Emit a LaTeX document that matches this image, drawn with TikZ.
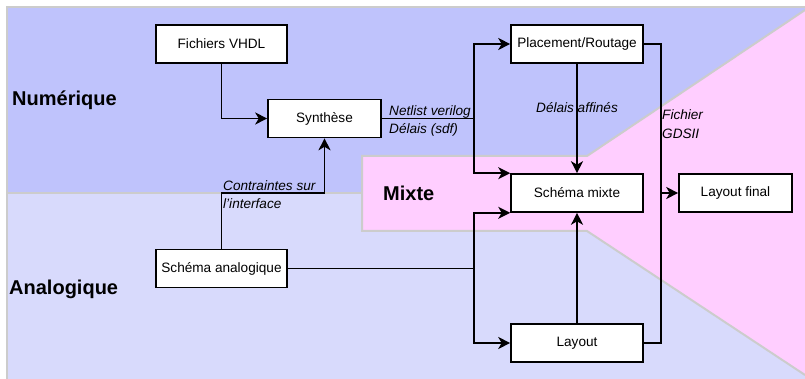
\documentclass[tikz,border=0pt]{standalone}
\usepackage{fontspec}
\setmainfont{Liberation Sans}
\usetikzlibrary{arrows.meta}

\definecolor{numblue}{RGB}{191,195,252}
\definecolor{anablue}{RGB}{216,218,252}
\definecolor{mixpink}{RGB}{255,206,255}
\definecolor{regborder}{RGB}{204,204,204}

\begin{document}
\begin{tikzpicture}[x=1pt, y=-1pt,
  box/.style={draw, fill=white, line width=1.6pt, minimum height=38pt,
    inner sep=0pt, font=\fontsize{13.6}{16}\selectfont},
  wire/.style={line width=1.6pt},
  flow/.style={wire, -{Stealth[length=12pt,width=12pt,inset=3.5pt]}},
  lab/.style={font=\fontsize{13.6}{18.5}\selectfont\itshape, align=left, inner sep=1pt},
  zone/.style={font=\fontsize{20}{24}\selectfont\bfseries, inner sep=0pt}]
\useasboundingbox (0,0) rectangle (805,379);

% zones
\fill[numblue] (7,7) rectangle (805,193);
\fill[anablue] (7,193) rectangle (805,379);
\draw[regborder, line width=2pt] (7,379) -- (7,7) -- (805,7);
\draw[regborder, line width=2pt] (7,193) -- (805,193);
\fill[mixpink] (362,156) -- (587,156) -- (805,10) -- (805,375) -- (587,231) -- (362,231) -- cycle;
\draw[regborder, line width=2pt] (805,10) -- (587,156) -- (362,156) -- (362,231) -- (587,231) -- (805,375);

\node[zone, anchor=west] (numz) at (12,100) {Numérique};
\node[zone, anchor=west] (anaz) at (9,289) {Analogique};
\node[zone, anchor=west] (mixz) at (383,193) {Mixte};

% blocs
\node[box, minimum width=131pt] (vhdl) at (221.5,44) {Fichiers VHDL};
\node[box, minimum width=113pt] (synth) at (324.5,118.5) {Synthèse};
\node[box, minimum width=131pt] (ana) at (221.5,268.5) {Schéma analogique};
\node[box, minimum width=132pt] (pr) at (577,44) {Placement/Routage};
\node[box, minimum width=132pt] (mix) at (577,193) {Schéma mixte};
\node[box, minimum width=132pt] (lay) at (577,343) {Layout};
\node[box, minimum width=113pt] (fin) at (735.5,193) {Layout final};

\coordinate (spsyn) at (474,118.5);
\coordinate (spana) at (474,268.5);
\coordinate (spgds) at (661,193);

\draw[flow] (vhdl.south) |- (synth.west);
\draw[flow] (ana.north) |- (272,193) -| (synth.south);
\draw[wire] (synth.east) -- (spsyn);
\draw[flow] (spsyn) |- (pr.west);
\draw[flow] (spsyn) |- (mix.north west);
\draw[wire] (ana.east) -- (spana);
\draw[flow] (spana) |- (mix.south west);
\draw[flow] (spana) |- (lay.west);
\draw[flow] (pr.south) -- (mix.north);
\draw[flow] (lay.north) -- (mix.south);
\draw[wire] (pr.east) -| (spgds);
\draw[wire] (lay.east) -| (spgds);
\draw[flow] (spgds) -- (fin.west);

\node[lab, anchor=west] (netl) at (388,121) {Netlist verilog\\Délais (sdf)};
\node[lab, anchor=west] (contr) at (222,194.5) {Contraintes sur\\l'interface};
\node[lab] (aff) at (577,108) {Délais affinés};
\node[lab, anchor=west] (gds) at (661,124) {Fichier\\GDSII};
\end{tikzpicture}
\end{document}
